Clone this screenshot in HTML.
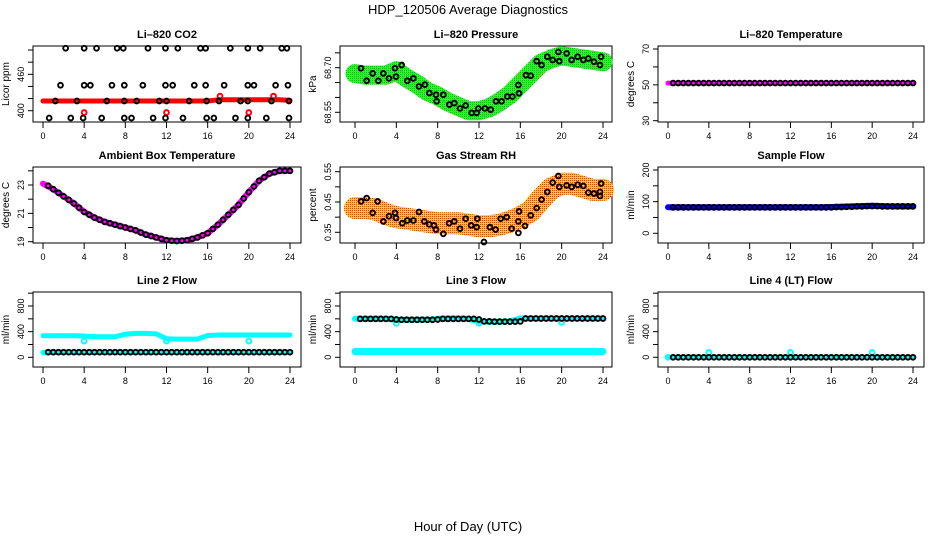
<!DOCTYPE html>
<html><head><meta charset="utf-8"><style>
html,body{margin:0;padding:0;background:#fff;}
svg{display:block;font-family:"Liberation Sans",sans-serif;}
</style></head><body>
<svg id="chart" width="936" height="540" viewBox="0 0 936 540">
<defs>
<pattern id="rhpat" width="2" height="2" patternUnits="userSpaceOnUse"><rect width="2" height="2" fill="#ffcc00"/><rect width="1" height="1" fill="#ff3000"/></pattern>
<pattern id="prpat" width="2" height="2" patternUnits="userSpaceOnUse"><rect width="2" height="2" fill="#22ff22"/><rect width="1" height="1" fill="#11bb11"/></pattern>
</defs>
<text x="468" y="14" font-size="13" text-anchor="middle">HDP_120506  Average Diagnostics</text>
<text x="468" y="531" font-size="13" text-anchor="middle">Hour of Day (UTC)</text>
</svg>
<script>
// ---- shared data ----
const hourTicks = [0,4,8,12,16,20,24];
const hours = [0,1,2,3,4,5,6,7,8,9,10,11,12,13,14,15,16,17,18,19,20,21,22,23,24];
const halfHours = [0.5,1,1.5,2,2.5,3,3.5,4,4.5,5,5.5,6,6.5,7,7.5,8,8.5,9,9.5,10,10.5,11,11.5,12,12.5,13,13.5,14,14.5,15,15.5,16,16.5,17,17.5,18,18.5,19,19.5,20,20.5,21,21.5,22,22.5,23,23.5,24];

// CO2
const co2BandVals = [416,416,416,416,416,416,416,416,416,416,416,416,416,416,416,416,416,418,418,418,418,418,418,418,417];
const co2PtHours = [2.2,4.0,5.2,7.2,7.8,10.2,11.9,13.1,15.3,15.8,18.2,19.9,21.1,23.2,23.7, 1.7,4.0,4.6,6.7,7.9,9.7,11.9,12.6,14.7,15.8,17.6,19.9,20.5,22.6,23.8, 1.2,3.3,6.2,7.9,9.1,11.3,12.0,14.2,15.9,17.1,19.2,19.9,22.2,23.9, 0.6,2.7,3.9,5.7,7.9,8.6,10.7,11.9,13.6,15.9,16.6,18.7,19.9,21.7,23.9];
const co2PtVals = [503,503,503,503,503,503,503,503,503,503,503,503,503,503,503, 442,442,442,442,442,442,442,442,442,442,442,442,442,442,442, 416,416,416,416,416,416,416,416,416,416,416,416,416,416, 388,388,388,388,388,388,388,388,388,388,388,388,388,388,388];
const co2OutHours = [4.0,12.0,20.0,17.2,22.4];
const co2OutVals = [397,397,397,424,424];

// Pressure
const presBandVals = [68.68,68.675,68.675,68.675,68.69,68.665,68.645,68.62,68.605,68.585,68.57,68.555,68.555,68.565,68.585,68.61,68.645,68.68,68.715,68.73,68.74,68.735,68.73,68.725,68.72];
const presPtHours = [0.58,1.13,1.71,2.26,2.74,3.29,3.87,3.97,4.52,5.06,5.65,6.19,6.77,7.19,7.84,7.90,8.55,9.13,9.61,10.16,10.71,11.29,11.77,11.94,12.58,13.13,13.65,14.19,14.74,15.23,15.81,15.87,16.55,17.0,17.58,18.06,18.61,19.13,19.68,19.77,20.48,20.97,21.55,22.10,22.58,23.13,23.71,23.81];
const presPtVals = [68.698,68.656,68.681,68.656,68.681,68.664,68.698,68.670,68.709,68.656,68.664,68.637,68.643,68.615,68.609,68.587,68.609,68.576,68.581,68.563,68.573,68.548,68.548,68.563,68.563,68.559,68.587,68.587,68.603,68.603,68.642,68.614,68.675,68.673,68.722,68.709,68.737,68.726,68.753,68.722,68.748,68.726,68.737,68.726,68.731,68.720,68.709,68.737];

// Li-820 temperature
const tempBandVals = [51,51,51,51,51,51,51,51,51,51,51,51,51,51,51,51,51,51,51,51,51,51,51,51,51];
const tempPtVals = [51,51,51,51,51,51,51,51,51,51,51,51,51,51,51,51,51,51,51,51,51,51,51,51,51,51,51,51,51,51,51,51,51,51,51,51,51,51,51,51,51,51,51,51,51,51,51,51];

// Ambient box temperature
const ambBandVals = [23.1,22.7,22.2,21.7,21.1,20.7,20.4,20.2,20.0,19.8,19.5,19.3,19.1,19.05,19.1,19.3,19.6,20.2,20.9,21.6,22.5,23.3,23.8,24.0,24.0];
const ambPtVals = [22.95,22.7,22.45,22.2,21.95,21.7,21.4,21.1,20.9,20.7,20.55,20.4,20.3,20.2,20.1,20.0,19.9,19.8,19.65,19.5,19.4,19.3,19.2,19.1,19.07,19.05,19.07,19.1,19.2,19.3,19.45,19.6,19.9,20.2,20.55,20.9,21.25,21.6,22.05,22.5,22.9,23.3,23.55,23.8,23.9,24.0,24.0,24.0];

// Gas stream RH
const rhBandVals = [0.43,0.43,0.425,0.41,0.40,0.395,0.39,0.385,0.38,0.38,0.38,0.375,0.37,0.37,0.375,0.385,0.40,0.42,0.46,0.495,0.51,0.51,0.50,0.49,0.49];
const rhPtHours = [0.58,1.13,1.71,2.19,2.74,3.29,3.87,3.97,4.58,5.06,5.65,6.19,6.71,7.19,7.65,7.84,8.55,9.10,9.61,10.16,10.71,11.23,11.77,11.84,12.48,13.06,13.61,14.10,14.68,15.16,15.81,15.81,15.87,16.45,17.0,17.58,18.06,18.61,19.13,19.68,19.77,20.48,20.97,21.55,22.10,22.58,23.13,23.71,23.81,23.71];
const rhPtVals = [0.452,0.463,0.414,0.452,0.386,0.403,0.414,0.397,0.380,0.389,0.389,0.417,0.386,0.376,0.373,0.359,0.345,0.380,0.386,0.362,0.395,0.373,0.367,0.395,0.318,0.367,0.359,0.395,0.400,0.362,0.348,0.386,0.419,0.371,0.406,0.430,0.458,0.483,0.514,0.536,0.500,0.505,0.500,0.507,0.503,0.481,0.478,0.483,0.511,0.470];

// Sample flow
const sfBandVals = [82,82,82,82,82,82,82,82,82,82,82,82,82,82,82,82,83,84,85,86,87,86,85,85,85];
const sfPtVals = [82,82,82,82,82,82,82,82,82,82,82,82,82,82,82,82,82,82,82,82,82,82,82,82,82,82,82,82,82,82,82,82,83,83,84,84,85,85,86,86,86,85,85,85,85,85,85,85];

// Line 2 flow
const l2BandVals = [337,337,337,337,330,320,320,320,360,372,372,365,290,284,284,284,340,347,347,347,347,347,347,347,347];
const l2LowVals = [75,75,75,75,75,75,75,75,75,75,75,75,75,75,75,75,75,75,75,75,75,75,75,75,75];
const l2PtVals = [80,80,80,80,80,80,80,80,80,80,80,80,80,80,80,80,80,80,80,80,80,80,80,80,80,80,80,80,80,80,80,80,80,80,80,80,80,80,80,80,80,80,80,80,80,80,80,80];
const l2OutHours = [4,12,20];
const l2OutVals = [253,253,253];

// Line 3 flow
const l3BandVals = [600,600,600,600,585,585,585,585,600,605,605,600,560,555,555,560,605,605,605,605,600,605,605,605,605];
const l3LowVals = [90,90,90,90,90,90,90,90,90,90,90,90,90,90,90,90,90,90,90,90,90,90,90,90,90];
const l3PtVals = [600,600,600,600,600,600,600,590,585,585,585,585,585,585,585,590,600,600,600,600,600,600,600,590,560,560,556,556,556,556,556,560,605,605,605,605,605,605,605,605,605,605,605,605,605,605,605,605];
const l3OutHours = [4,12,20];
const l3OutVals = [530,530,545];

// Line 4 flow
const l4BandVals = [0,0,0,0,0,0,0,0,0,0,0,0,0,0,0,0,0,0,0,0,0,0,0,0,0];
const l4PtVals = [0,0,0,0,0,0,0,0,0,0,0,0,0,0,0,0,0,0,0,0,0,0,0,0,0,0,0,0,0,0,0,0,0,0,0,0,0,0,0,0,0,0,0,0,0,0,0,0];
const l4OutHours = [0,4,12,20];
const l4OutVals = [0,75,75,75];

// ---- layout ----
const NS = "http://www.w3.org/2000/svg";
const svg = document.getElementById('chart');
const cols = [{L:33,R:301,x0:43,x24:290},{L:340,R:612,x0:355,x24:603},{L:658,R:924,x0:668,x24:913}];
const rows = [{T:46,B:122},{T:167,B:243},{T:292,B:367}];

function mk(tag, attrs){const e=document.createElementNS(NS,tag);for(const k in attrs)e.setAttribute(k,attrs[k]);return e;}

function panel(key, title, ytitle, c, r, vA, pA, vB, pB, yTicks, yLabels){
  const col=cols[c], row=rows[r];
  const g=mk('g',{});
  
  
  svg.appendChild(g);
  const xs=h=>col.x0+(col.x24-col.x0)*h/24;
  const ys=v=>pA+(v-vA)*(pB-pA)/(vB-vA);
  const box=mk('rect',{x:col.L,y:row.T,width:col.R-col.L,height:row.B-row.T,fill:'none',stroke:'#000','stroke-width':1});
  
  
  g.appendChild(box);
  const t=mk('text',{x:(col.L+col.R)/2,y:row.T-8,'font-size':11,'font-weight':'bold','text-anchor':'middle'});
  t.textContent=title;
  
  
  g.appendChild(t);
  const yt=mk('text',{x:0,y:0,'font-size':10,'text-anchor':'middle',transform:`translate(${col.L-24},${(row.T+row.B)/2}) rotate(-90)`});
  yt.textContent=ytitle;
  
  
  g.appendChild(yt);
  g.appendChild(mk('line',{x1:xs(0),x2:xs(24),y1:row.B,y2:row.B,stroke:'#000'}));
  hourTicks.forEach(h=>{
    g.appendChild(mk('line',{x1:xs(h),x2:xs(h),y1:row.B,y2:row.B+6,stroke:'#000'}));
    const lb=mk('text',{x:xs(h),y:row.B+17,'font-size':9,'text-anchor':'middle'});
    lb.textContent=h;
    
    
    g.appendChild(lb);
  });
  yTicks.forEach(v=>{
    g.appendChild(mk('line',{x1:col.L-5,x2:col.L,y1:ys(v),y2:ys(v),stroke:'#000'}));
  });
  yLabels.forEach(v=>{
    const lb=mk('text',{x:0,y:0,'font-size':9,'text-anchor':'middle',transform:`translate(${col.L-9},${ys(+v)}) rotate(-90)`});
    lb.textContent=v;
    
    
    g.appendChild(lb);
  });
  return {g,xs,ys,key};
}
function band(p, hs, vals, color, w, name){
  const pts=hs.map((h,i)=>p.xs(h).toFixed(1)+','+p.ys(vals[i]).toFixed(1)).join(' ');
  const e=mk('polyline',{points:pts,fill:'none',stroke:color,'stroke-width':w,'stroke-linejoin':'round','stroke-linecap':'round'});
  
  
  p.g.appendChild(e);
}
function points(p, hs, vals, color, name){
  hs.forEach((h,i)=>{
    const e=mk('circle',{cx:p.xs(h),cy:p.ys(vals[i]),r:2.4,fill:'none',stroke:color,'stroke-width':1.9});
    
    
    p.g.appendChild(e);
  });
}

let p;
p=panel('co2','Li\u2013820 CO2','Licor ppm',0,0,400,110.7,460,74.3,[400,420,440,460,480,500],['400','460']);
band(p,hours,co2BandVals,'#ff0000',5,'co2-band');
points(p,co2OutHours,co2OutVals,'#ff0000','co2-outlier');
points(p,co2PtHours,co2PtVals,'#000','co2-point');

p=panel('pressure','Li\u2013820 Pressure','kPa',1,0,68.55,112.3,68.70,67.7,[68.55,68.60,68.65,68.70,68.75],['68.55','68.70']);
band(p,hours,presBandVals,'url(#prpat)',19,'pressure-band');
points(p,presPtHours,presPtVals,'#000','pressure-point');

p=panel('li-temp','Li\u2013820 Temperature','degrees C',2,0,30,120.7,70,49,[30,40,50,60,70],['30','50','70']);
band(p,hours,tempBandVals,'#ff00ff',5,'li-temp-band');
points(p,halfHours,tempPtVals,'#000','li-temp-point');

p=panel('ambient','Ambient Box Temperature','degrees C',0,1,19,241.7,23,185,[19,20,21,22,23,24],['19','21','23']);
band(p,hours,ambBandVals,'#ff00ff',6,'ambient-band');
points(p,halfHours,ambPtVals,'#000','ambient-point');

p=panel('rh','Gas Stream RH','percent',1,1,0.35,232.3,0.55,171.7,[0.35,0.40,0.45,0.50,0.55],['0.35','0.45','0.55']);
band(p,hours,rhBandVals,'url(#rhpat)',22,'rh-band');
points(p,rhPtHours,rhPtVals,'#000','rh-point');

p=panel('sample-flow','Sample Flow','ml/min',2,1,0,233.3,200,170,[0,50,100,150,200],['0','100','200']);
band(p,hours,sfBandVals,'#0000ff',6,'sample-flow-band');
points(p,halfHours,sfPtVals,'#000','sample-flow-point');

p=panel('line2','Line 2 Flow','ml/min',0,2,0,357.3,800,306,[0,200,400,600,800,1000],['0','400','800']);
band(p,hours,l2BandVals,'#00ffff',5,'line2-band');
band(p,hours,l2LowVals,'#00ffff',5,'line2-low-band');
points(p,l2OutHours,l2OutVals,'#00ffff','line2-outlier');
points(p,halfHours,l2PtVals,'#000','line2-point');

p=panel('line3','Line 3 Flow','ml/min',1,2,0,357.3,800,306,[0,200,400,600,800,1000],['0','400','800']);
band(p,hours,l3BandVals,'#00ffff',6,'line3-band');
band(p,hours,l3LowVals,'#00ffff',7,'line3-low-band');
points(p,l3OutHours,l3OutVals,'#00ffff','line3-outlier');
points(p,halfHours,l3PtVals,'#000','line3-point');

p=panel('line4','Line 4 (LT) Flow','ml/min',2,2,0,357.3,800,306,[0,200,400,600,800,1000],['0','400','800']);
band(p,hours,l4BandVals,'#00ffff',3,'line4-band');
points(p,l4OutHours,l4OutVals,'#00ffff','line4-outlier');
points(p,halfHours,l4PtVals,'#000','line4-point');
</script>
</body></html>
